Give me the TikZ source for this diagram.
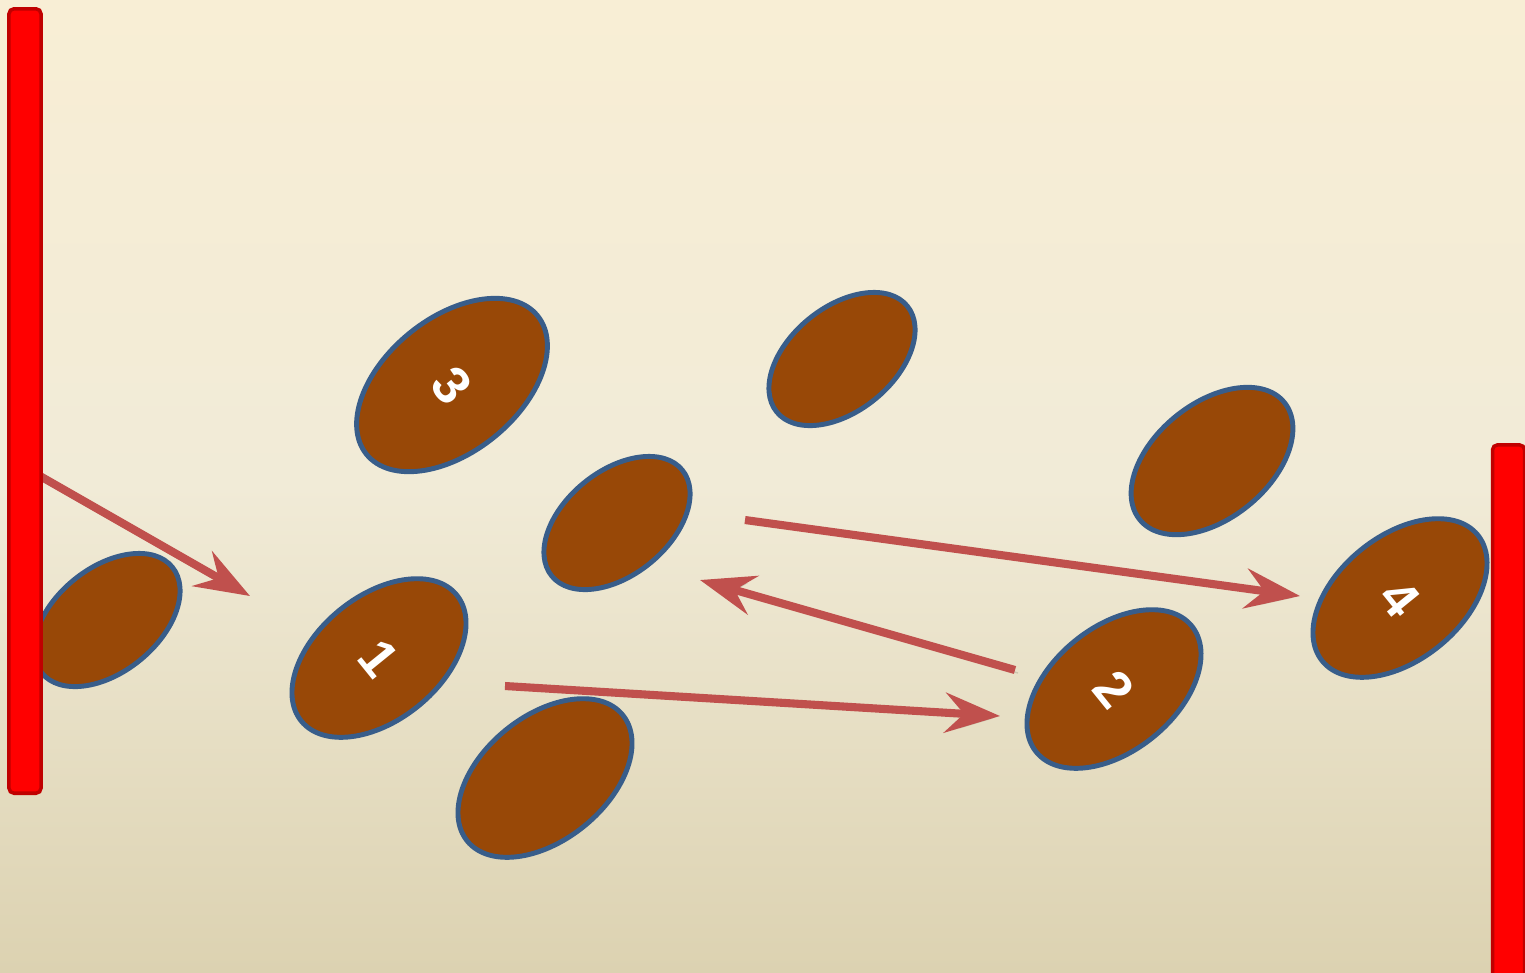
\documentclass[tikz,border=0pt]{standalone}
\usepackage{fontspec}
\setmainfont{Carlito}
\newfontfamily\grainfont{Liberation Sans}
\usepackage{xcolor}
\usetikzlibrary{arrows.meta,positioning,shapes.geometric}

\definecolor{bgtop}{HTML}{F8EED5}
\definecolor{bgmid}{HTML}{F1EBD7}
\definecolor{bgbot}{HTML}{DCD2B1}
\definecolor{grainfill}{HTML}{984807}
\definecolor{grainedge}{HTML}{385D8A}
\definecolor{arrowred}{HTML}{C0504D}
\definecolor{walledge}{HTML}{C00000}

\begin{document}
\begin{tikzpicture}[
    x=0.01cm, y=-0.01cm,
    grain/.style={ellipse, draw=grainedge, fill=grainfill, line width=1.4pt,
        inner sep=0pt, rotate=-51, text=white,
        font=\grainfont\bfseries\fontsize{15}{15}\selectfont},
    huge/.style={minimum width=1.34cm, minimum height=2.20cm},
    large/.style={minimum width=1.24cm, minimum height=2.00cm},
    medium/.style={minimum width=1.15cm, minimum height=1.86cm},
    small/.style={minimum width=1.04cm, minimum height=1.68cm},
    wall/.style={rectangle, draw=walledge, fill=red, line width=1pt,
        rounded corners=0.05cm, minimum width=0.32cm, inner sep=0pt},
    arrow/.style={-{Stealth[length=0.55cm, width=0.40cm, inset=0.19cm]},
        draw=arrowred, line width=2.3pt,
        preaction={draw=black, opacity=0.12,
            transform canvas={shift={(0.03cm,-0.03cm)}}}}
]
    % Background
    \useasboundingbox (0,0) rectangle (1525,972);
    \shade[top color=bgtop, bottom color=bgmid] (0,0) rectangle (1525,487);
    \shade[top color=bgmid, bottom color=bgbot] (0,486) rectangle (1525,972);

    % Grains
    \node[grain, huge] (G3) at (452,385) {3};
    \node[grain, large] (G1) at (379,658) {1};
    \node[grain, large] (G2) at (1114,689) {2};
    \node[grain, large] (G4) at (1400,598) {4};
    \node[grain, large] (Gbot) at (545,778) {};
    \node[grain, medium] (Gright) at (1212,461) {};
    \node[grain, small] (Gtop) at (842,359) {};
    \node[grain, small] (Gmid) at (617,523) {};
    \node[grain, small] (Gleft) at (107,620) {};

    % Arrow ends
    \coordinate (A1s) at (40,476);
    \coordinate (A1e) at (250,596);
    \coordinate (A2s) at (505,686);
    \coordinate (A2e) at (1000,716);
    \coordinate (A3s) at (1015,670);
    \coordinate (A3e) at (700,580);
    \coordinate (A4s) at (745,520);
    \coordinate (A4e) at (1300,596);

    % Arrows
    \draw[arrow] (A1s) -- (A1e);
    \draw[arrow] (A2s) -- (A2e);
    \draw[arrow] (A3s) -- (A3e);
    \draw[arrow] (A4s) -- (A4e);

    % Walls
    \node[wall, minimum height=7.84cm] (Wleft) at (25,401) {};
    \node[wall, minimum height=5.45cm] (Wright) at (1508.5,717.5) {};
\end{tikzpicture}
\end{document}
